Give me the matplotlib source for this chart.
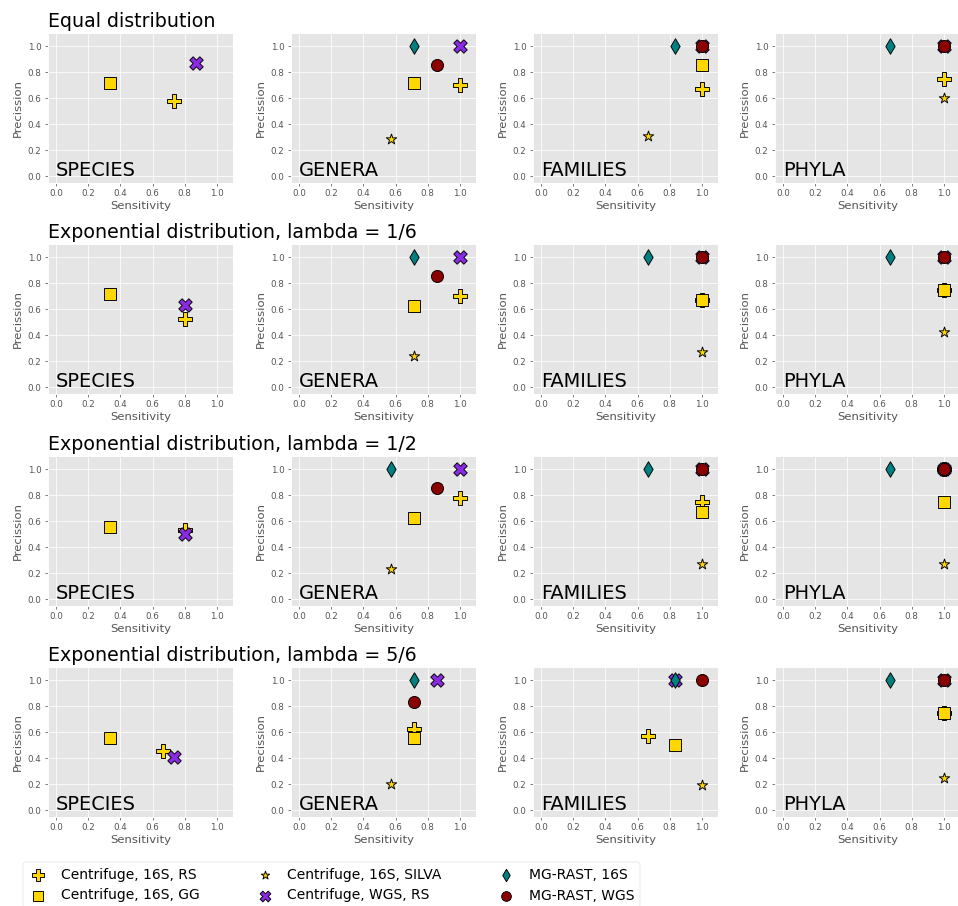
import numpy as np
import matplotlib
matplotlib.use("Agg")
import matplotlib.pyplot as plt

plt.style.use('ggplot')

nan = np.nan

rows = ["Equal distribution",
        "Exponential distribution, lambda = 1/6",
        "Exponential distribution, lambda = 1/2",
        "Exponential distribution, lambda = 5/6"]
levels = ["SPECIES", "GENERA", "FAMILIES", "PHYLA"]

# sensitivity / precision, one row per distribution, one column per level
rs_sens = [[0.733, 1.0, 1.0, 1.0], [0.8, 1.0, 1.0, 1.0], [0.8, 1.0, 1.0, 1.0], [0.667, 0.714, 0.667, 1.0]]
rs_prec = [[0.579, 0.7, 0.667, 0.75], [0.526, 0.7, 0.667, 0.75], [0.533, 0.778, 0.75, 1.0], [0.455, 0.625, 0.571, 0.75]]

gg_sens = [[0.333, 0.714, 1.0, nan], [0.333, 0.714, 1.0, 1.0], [0.333, 0.714, 1.0, 1.0], [0.333, 0.714, 0.833, 1.0]]
gg_prec = [[0.714, 0.714, 0.857, nan], [0.714, 0.625, 0.667, 0.75], [0.556, 0.625, 0.667, 0.75], [0.556, 0.556, 0.5, 0.75]]

silva_sens = [[nan, 0.571, 0.667, 1.0], [nan, 0.714, 1.0, 1.0], [nan, 0.571, 1.0, 1.0], [nan, 0.571, 1.0, 1.0]]
silva_prec = [[nan, 0.286, 0.308, 0.6], [nan, 0.238, 0.273, 0.429], [nan, 0.235, 0.273, 0.273], [nan, 0.2, 0.192, 0.25]]

wgs_sens = [[0.867, 1.0, 1.0, 1.0], [0.8, 1.0, 1.0, 1.0], [0.8, 1.0, 1.0, 1.0], [0.733, 0.857, 0.833, 1.0]]
wgs_prec = [[0.867, 1.0, 1.0, 1.0], [0.632, 1.0, 1.0, 1.0], [0.5, 1.0, 1.0, 1.0], [0.407, 1.0, 1.0, 1.0]]

mg16_sens = [[nan, 0.714, 0.833, 0.667], [nan, 0.714, 0.667, 0.667], [nan, 0.571, 0.667, 0.667], [nan, 0.714, 0.833, 0.667]]
mg16_prec = [[nan, 1.0, 1.0, 1.0], [nan, 1.0, 1.0, 1.0], [nan, 1.0, 1.0, 1.0], [nan, 1.0, 1.0, 1.0]]

mgwgs_sens = [[nan, 0.857, 1.0, 1.0], [nan, 0.857, 1.0, 1.0], [nan, 0.857, 1.0, 1.0], [nan, 0.714, 1.0, 1.0]]
mgwgs_prec = [[nan, 0.857, 1.0, 1.0], [nan, 0.857, 1.0, 1.0], [nan, 0.857, 1.0, 1.0], [nan, 0.833, 1.0, 1.0]]

methods = [
    ("Centrifuge, 16S, RS", rs_sens, rs_prec, 'P', 'gold', 230),
    ("Centrifuge, 16S, GG", gg_sens, gg_prec, 's', 'gold', 160),
    ("Centrifuge, 16S, SILVA", silva_sens, silva_prec, '*', 'gold', 140),
    ("Centrifuge, WGS, RS", wgs_sens, wgs_prec, 'X', 'blueviolet', 210),
    ("MG-RAST, 16S", mg16_sens, mg16_prec, 'd', 'teal', 140),
    ("MG-RAST, WGS", mgwgs_sens, mgwgs_prec, 'o', 'darkred', 170),
]

DPI = 958 / 14.37
fig = plt.figure(figsize=(14.37, 13.59), dpi=DPI)
W, H = 958., 906.

col_left = [48, 291, 533, 775]
row_top = [33, 244, 456, 667]
aw, ah = 185, 150

handles = []
for r in range(4):
    for c in range(4):
        ax = fig.add_axes([col_left[c] / W, 1 - (row_top[r] + ah) / H, aw / W, ah / H])
        for name, sens, prec, mk, col, s in methods:
            h = ax.scatter(sens[r][c], prec[r][c], marker=mk, s=s, color=col,
                           edgecolors='black', linewidths=1, label=name, zorder=3)
            if r == 0 and c == 0:
                handles.append(h)
        ax.set_xlim(-0.05, 1.1)
        ax.set_ylim(-0.05, 1.1)
        ax.set_xticks(np.arange(0, 1.01, 0.2))
        ax.set_yticks(np.arange(0, 1.01, 0.2))
        ax.tick_params(labelsize=9.5)
        ax.set_xlabel("Sensitivity", fontsize=12.5, labelpad=3)
        ax.set_ylabel("Precission", fontsize=12.5, labelpad=5)
        ax.text(0.0, 0.0, levels[c], fontsize=21, va='baseline', ha='left', color='black')
        if c == 0:
            ax.set_title(rows[r], loc='left', fontsize=20.5, color='black')

leg = fig.legend(handles, [m[0] for m in methods], ncol=3, loc='upper left',
                 bbox_to_anchor=(23 / W, 1 - 862 / H), borderaxespad=0,
                 fontsize=15, markerscale=0.8, scatterpoints=1, frameon=True,
                 handlelength=1.4, handletextpad=0.9, columnspacing=4.0,
                 facecolor='white', edgecolor='#cccccc')

plt.savefig("out.png", dpi=DPI)
